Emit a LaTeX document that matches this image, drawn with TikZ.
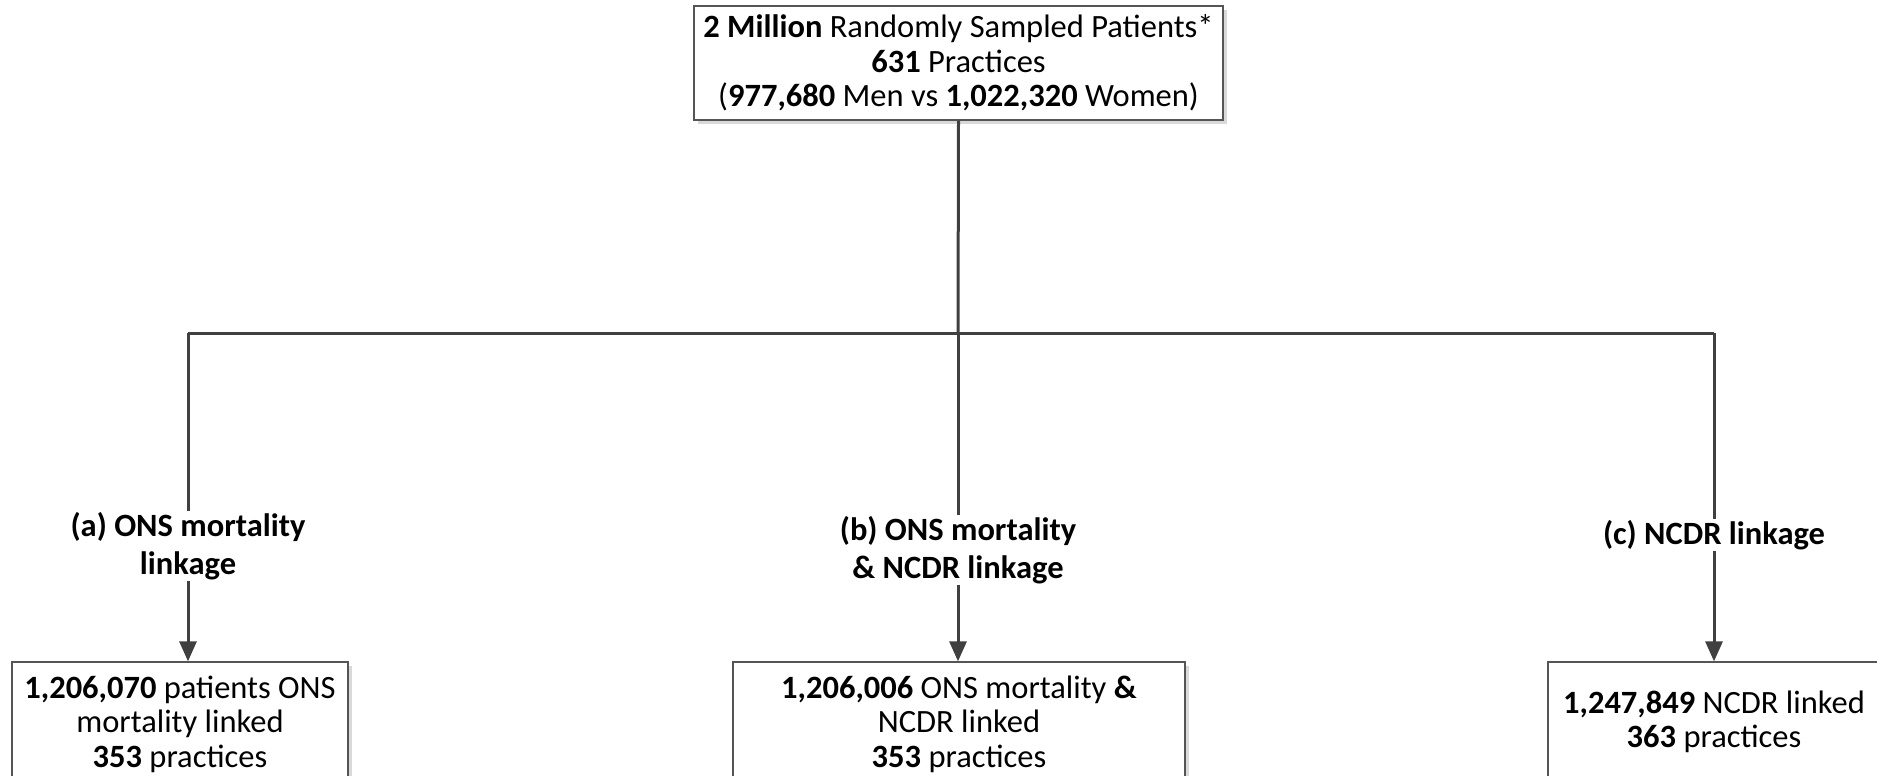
\documentclass[tikz,border=0pt]{standalone}
\usepackage{fontspec}
\setmainfont{Carlito}
\usetikzlibrary{arrows.meta,shadows}
\definecolor{linegray}{HTML}{404040}
\definecolor{boxgray}{HTML}{555555}
\tikzset{
  boxnode/.style={draw=boxgray, line width=1.3pt, fill=white, align=center,
    font=\fontsize{32.5}{34.5}\selectfont, inner sep=0pt,
    drop shadow={shadow xshift=4pt, shadow yshift=-4pt, fill=gray!30, opacity=1}},
  labnode/.style={align=center, font=\fontsize{32.5}{37.5}\selectfont\bfseries, inner sep=1pt},
  conn/.style={draw=linegray, line width=3pt},
  arr/.style={conn, -{Triangle[length=20pt,width=17pt]}}
}
\begin{document}
\begin{tikzpicture}[x=1pt,y=-1pt]
\useasboundingbox (0,0) rectangle (1877,776);
\clip (0,0) rectangle (1877,776);
\fill[white] (0,0) rectangle (1877,776);
\node[boxnode, minimum width=529pt, minimum height=114pt] (top) at (958.5,63)
  {\textbf{2 Million} Randomly Sampled Patients*\\ \textbf{631} Practices\\ (\textbf{977,680} Men vs \textbf{1,022,320} Women)};
\coordinate (ja) at (188,333);
\coordinate (jb) at (958,333);
\coordinate (jc) at (1714,333);
\node[labnode] (la) at (188,546) {(a) ONS mortality\\ linkage};
\node[labnode] (lb) at (958,550) {(b) ONS mortality\\ \& NCDR linkage};
\node[labnode] (lc) at (1714,535) {(c) NCDR linkage};
\node[boxnode, minimum width=336pt, minimum height=124pt] (ba) at (180,724)
  {\textbf{1,206,070} patients ONS\\ mortality linked\\ \textbf{353} practices};
\node[boxnode, minimum width=452pt, minimum height=124pt] (bb) at (959,724)
  {\textbf{1,206,006} ONS mortality \textbf{\&}\\ NCDR linked\\ \textbf{353} practices};
\node[boxnode, minimum width=332pt, minimum height=120pt] (bc) at (1714,722)
  {\textbf{1,247,849} NCDR linked\\ \textbf{363} practices};
\draw[conn] (top.south) -- (jb);
\draw[conn] (ja) -- (jc);
\draw[conn] (ja) -- (la.north);
\draw[conn] (jb) -- (lb.north);
\draw[conn] (jc) -- (lc.north);
\draw[arr] (la.south) -- (la.south |- ba.north);
\draw[arr] (lb.south) -- (lb.south |- bb.north);
\draw[arr] (lc.south) -- (lc.south |- bc.north);
\end{tikzpicture}
\end{document}
